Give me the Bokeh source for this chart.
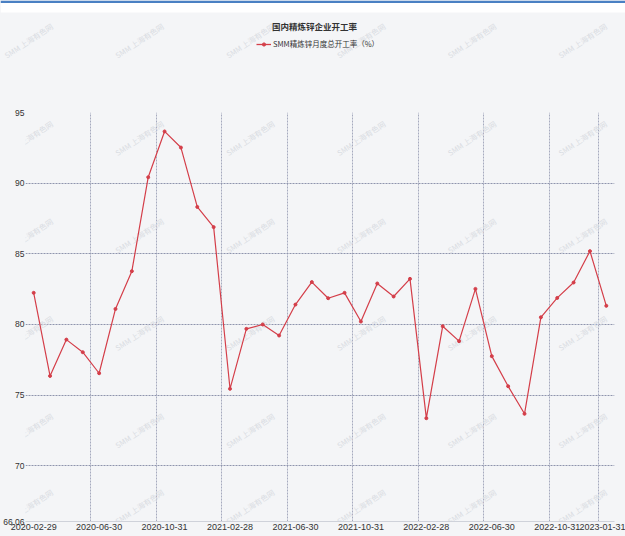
from bokeh.plotting import figure
from bokeh.models import (Range1d, FixedTicker, Legend, LegendItem, Label,
                          NumeralTickFormatter, ColumnDataSource, BoxAnnotation)
from bokeh.layouts import column
from bokeh.embed import file_html
from bokeh.resources import INLINE

# Monthly operating rate of domestic refined zinc smelters (%)
dates = [
    "2020-02-29", "2020-03-31", "2020-04-30", "2020-05-31", "2020-06-30", "2020-07-31",
    "2020-08-31", "2020-09-30", "2020-10-31", "2020-11-30", "2020-12-31", "2021-01-31",
    "2021-02-28", "2021-03-31", "2021-04-30", "2021-05-31", "2021-06-30", "2021-07-31",
    "2021-08-31", "2021-09-30", "2021-10-31", "2021-11-30", "2021-12-31", "2022-01-31",
    "2022-02-28", "2022-03-31", "2022-04-30", "2022-05-31", "2022-06-30", "2022-07-31",
    "2022-08-31", "2022-09-30", "2022-10-31", "2022-11-30", "2022-12-31", "2023-01-31",
]
rates = [
    82.24, 76.36, 78.93, 78.04, 76.55, 81.10, 83.77, 90.42, 93.66, 92.52, 88.32, 86.89,
    75.45, 79.69, 80.00, 79.22, 81.41, 83.00, 81.86, 82.24, 80.21, 82.90, 81.98, 83.23,
    73.37, 79.88, 78.82, 82.52, 77.76, 75.63, 73.68, 80.51, 81.88, 82.97, 85.19, 81.32,
]
y_min = 66.06
y_max = 95
y_ticks = [66.06, 70, 75, 80, 85, 90, 95]
y_grid = [70, 75, 80, 85, 90, 95]

title_text = "国内精炼锌企业开工率"
series_name = "SMM精炼锌月度总开工率（%）"
watermark = "SMM 上海有色网"

n = len(dates)
pos = list(range(n))
label_idx = list(range(0, n, 4)) + [n - 1]
band_edges = [i - 0.5 for i in label_idx] + [n - 0.5]

BG = "#f4f5f7"
RED = "#d43e49"
TICK_FONT = "Liberation Sans"
CJK = "Noto Sans CJK SC"
WM_COLOR = "#d9dce2"
WM_ANGLE = 0.58
W = 625
HEAD_H = 102          # header strip: blue rule, title and legend
MAIN_H = 536 - HEAD_H
FRAME_L, FRAME_B = 25, 15


def add_watermarks(fig, x0, y_base, rows):
    """Tile the faint site watermark; positions are given in screen pixels."""
    for cy in rows:
        for j in range(6):
            cx = 28 + 110.8 * j
            fig.add_layout(Label(x=cx - x0, y=y_base - cy, x_units="screen",
                                 y_units="screen", text=watermark, angle=WM_ANGLE,
                                 text_align="center", text_baseline="middle",
                                 text_font=CJK, text_font_size="7.5px",
                                 text_color=WM_COLOR, level="underlay"))


# ---------------- header: top rule, title, legend ----------------
head = figure(width=W, height=HEAD_H, x_range=Range1d(0, W), y_range=Range1d(0, HEAD_H),
              x_axis_type=None, y_axis_type=None, min_border=0, frame_align=False,
              output_backend="svg", toolbar_location=None,
              background_fill_color=BG, border_fill_color=BG, outline_line_color=None)
head.add_layout(BoxAnnotation(left=0, right=W, bottom=HEAD_H - 12, top=HEAD_H,
                              fill_color="white", fill_alpha=1, line_color=None))
head.add_layout(BoxAnnotation(left=0, right=W, bottom=HEAD_H - 2.5, top=HEAD_H,
                              fill_color="#4a80c3", fill_alpha=1, line_color=None))
add_watermarks(head, 0, HEAD_H, [40])

head.add_layout(Label(x=314, y=HEAD_H - 25, text=title_text, text_align="center",
                      text_baseline="middle", text_font=CJK, text_font_style="bold",
                      text_font_size="8.5px", text_color="#333333"))

# legend key glyphs: one off-screen point so the key has something to style from
key_src = ColumnDataSource(dict(x=[-100], y=[-100]))
key_line = head.line("x", "y", source=key_src, line_color=RED, line_width=1.3)
key_dot = head.scatter("x", "y", source=key_src, size=6, color=RED)
legend = Legend(items=[LegendItem(label=series_name, renderers=[key_line, key_dot])],
                location=(256, HEAD_H - 49), orientation="horizontal",
                glyph_width=15, glyph_height=8, label_standoff=2,
                padding=0, margin=0, spacing=0,
                label_text_font=CJK, label_text_font_size="7.5px",
                label_text_color="#333333", label_height=10,
                background_fill_alpha=0, border_line_color=None)
head.add_layout(legend)

# ---------------- main chart ----------------
src = ColumnDataSource(dict(x=pos, y=rates, date=dates))

p = figure(width=W, height=MAIN_H,
           x_range=Range1d(-0.5, n - 0.5), y_range=Range1d(y_min, y_max),
           output_backend="svg", toolbar_location=None, frame_align=False,
           min_border_left=FRAME_L, min_border_right=11,
           min_border_top=10, min_border_bottom=FRAME_B,
           background_fill_color=BG, border_fill_color=BG,
           outline_line_color=None)

# dashed grid on band edges and on the round y values
p.xgrid.ticker = FixedTicker(ticks=band_edges)
p.ygrid.ticker = FixedTicker(ticks=y_grid)
for g, c in ((p.xgrid, "#a6aabe"), (p.ygrid, "#8f94ad")):
    g.grid_line_color = c
    g.grid_line_dash = "2 1"
    g.grid_line_width = 1

p.xaxis.ticker = FixedTicker(ticks=label_idx)
p.xaxis.major_label_overrides = {i: dates[i] for i in label_idx}
p.yaxis.ticker = FixedTicker(ticks=y_ticks)
p.yaxis.formatter = NumeralTickFormatter(format="0.[00]")
for ax in (p.xaxis[0], p.yaxis[0]):
    ax.major_tick_line_color = None
    ax.minor_tick_line_color = None
    ax.major_tick_out = 0
    ax.major_tick_in = 0
    ax.minor_tick_out = 0
    ax.minor_tick_in = 0
    ax.major_label_text_font = TICK_FONT
    ax.major_label_text_color = "#333333"
p.xaxis.major_label_standoff = 2
p.yaxis.major_label_standoff = 1
p.xaxis.major_label_text_font_size = "9px"
p.yaxis.major_label_text_font_size = "8.5px"
p.yaxis.axis_line_color = None
p.xaxis.axis_line_color = "#cfd2da"

# watermark rows inside the plot frame (lowest row kept clear of the axis)
add_watermarks(p, FRAME_L, 536 - FRAME_B, [137.5, 235, 332.5, 430, 506])

p.line("x", "y", source=src, line_color=RED, line_width=1.2)
p.scatter("x", "y", source=src, size=3, color=RED)

layout = column(head, p, spacing=0, styles={"background-color": BG})
open("out.html", "w").write(file_html(layout, INLINE))
